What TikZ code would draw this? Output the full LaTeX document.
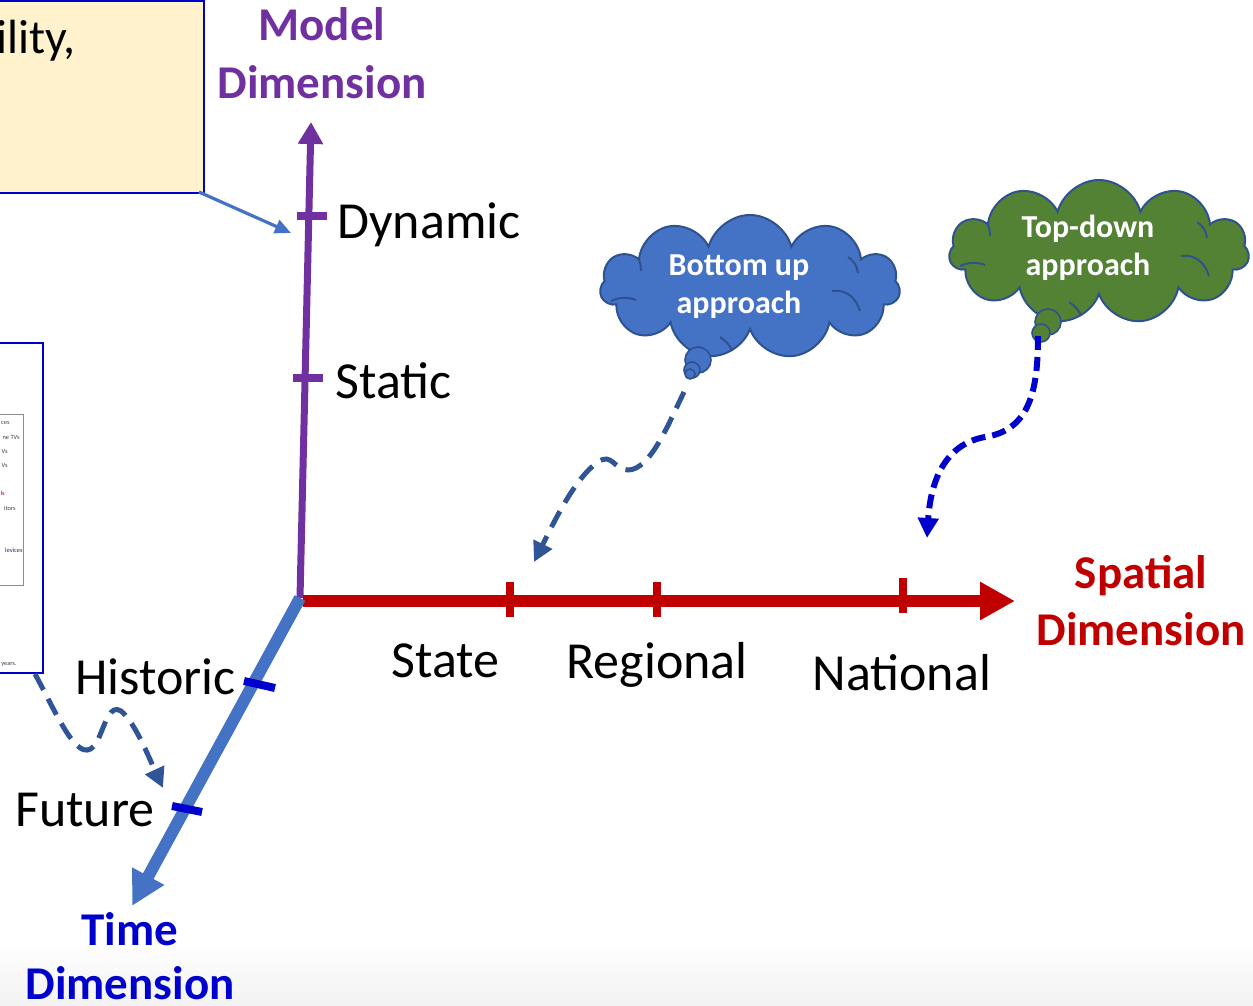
\documentclass[tikz,border=0pt]{standalone}
\usepackage{fontspec}
\setmainfont{Carlito}
\usetikzlibrary{arrows.meta,shapes.symbols,calc}
\definecolor{modelpurple}{HTML}{7030A0}
\definecolor{spacered}{HTML}{C00000}
\definecolor{timeblue}{HTML}{4472C4}
\definecolor{deepblue}{HTML}{0000CC}
\definecolor{dashblue}{HTML}{2F5597}
\definecolor{cloudedge}{HTML}{2F528F}
\definecolor{cloudblue}{HTML}{4472C4}
\definecolor{cloudgreen}{HTML}{548235}
\definecolor{notefill}{HTML}{FFF2CC}
\begin{document}
\begin{tikzpicture}[x=0.5pt,y=-0.5pt,
  axlabel/.style={inner sep=0pt,anchor=base west,font=\fontsize{26}{31}\selectfont},
  dimlabel/.style={inner sep=0pt,anchor=base,font=\fontsize{23.5}{28.5}\selectfont\bfseries},
  thought/.style={cloud,cloud puffs=11,aspect=2.1,draw=cloudedge,line width=1pt,inner sep=0pt},
  puffline/.style={draw=cloudedge,line width=1pt},
  bubble/.style={draw=cloudedge,line width=0.8pt},
  cloudtext/.style={inner sep=0pt,anchor=base,text=white,font=\fontsize{16}{19.5}\selectfont\bfseries},
  tinytext/.style={inner sep=0pt,anchor=base east,font=\fontsize{3.2}{4}\selectfont,text=black!75},
  flowarrow/.style={line width=2.5pt,dash pattern=on 9pt off 5pt,-{Triangle[length=10pt,width=10pt]}}
]
\useasboundingbox (0,0) rectangle (1253,1006);
% faint floor shading
\shade[top color=white,bottom color=black!5] (0,940) rectangle (1253,1006);

% note box (top left) and figure box (left), both running off the page
\node[draw=deepblue,fill=notefill,line width=1pt,anchor=north east,minimum width=200pt,minimum height=96pt,inner sep=0pt] (notebox) at (205,0) {};
\node[anchor=base east,inner sep=0pt,font=\fontsize{24}{29}\selectfont] (notetext) at (76,54) {ility,};

\node[draw=deepblue,fill=white,line width=1pt,anchor=north east,minimum width=60pt,minimum height=165pt,inner sep=0pt] (figbox) at (44,342) {};
\node[draw=black!45,line width=0.5pt,anchor=north east,minimum width=40pt,minimum height=85.5pt,inner sep=0pt] (legend) at (24,414) {};
\node[tinytext] (f1) at (10,424) {ces};
\node[tinytext] (f2) at (20,439) {ne TVs};
\node[tinytext] (f3) at (8,453) {Vs};
\node[tinytext] (f4) at (8,467) {Vs};
\node[tinytext,text=spacered!70!black] (f5) at (5,495) {ls};
\node[tinytext] (f6) at (16,510) {itors};
\node[tinytext,text=modelpurple!60!black] (f7) at (23,552) {levices};
\node[tinytext] (f8) at (17,665) {years.};

% axes
\coordinate (O) at (300,598);
\coordinate (Mtip) at (311,122);
\coordinate (Sstart) at (303,601);
\coordinate (Stip) at (1015,601);
\coordinate (Ttip) at (132,906);

\draw[modelpurple,line width=3.5pt,-{Triangle[length=11pt,width=12pt]}] (O) -- (Mtip);
\draw[spacered,line width=6pt,-{Triangle[length=17.5pt,width=18pt]}] (Sstart) -- (Stip);
\draw[timeblue,line width=6pt,-{Triangle[length=17pt,width=17pt]}] (O) -- (Ttip);

% ticks
\draw[modelpurple,line width=4pt] (297,216) -- (327,216);
\draw[modelpurple,line width=4pt] (293,378) -- (323,378);
\draw[spacered,line width=4pt] (510,582) -- (510,617);
\draw[spacered,line width=4pt] (657,582) -- (657,617);
\draw[spacered,line width=4pt] (903,578) -- (903,613);
\draw[deepblue,line width=4pt] (244,681) -- (275,688);
\draw[deepblue,line width=4pt] (172,806) -- (202,812);

% axis titles
\node[dimlabel,text=modelpurple] (mdim1) at (322,41) {Model};
\node[dimlabel,text=modelpurple] (mdim2) at (322,99) {Dimension};
\node[dimlabel,text=spacered] (sdim1) at (1141,588) {Spatial};
\node[dimlabel,text=spacered] (sdim2) at (1141,645) {Dimension};
\node[dimlabel,text=deepblue] (tdim1) at (130,945) {Time};
\node[dimlabel,text=deepblue] (tdim2) at (130,999) {Dimension};

% axis values
\node[axlabel] (dyn) at (337,238) {Dynamic};
\node[axlabel] (stat) at (335,398) {Static};
\node[axlabel] (state) at (391,677) {State};
\node[axlabel] (reg) at (566,678) {Regional};
\node[axlabel] (nat) at (812,690) {National};
\node[axlabel] (hist) at (75,694) {Historic};
\node[axlabel] (fut) at (15,826) {Future};

% note-to-axis pointer
\coordinate (dynpt) at (291,233);
\draw[timeblue,line width=1.6pt,-{Triangle[length=8pt,width=7pt]}] (notebox.south east) ++(-6,-2) -- (dynpt);

% thought clouds, each with the inner fold lines of the puffs
\node[thought,fill=cloudblue,minimum width=150pt,minimum height=72pt] (cloudA) at (750,287) {};
\node[thought,fill=cloudgreen,minimum width=150pt,minimum height=72pt] (cloudB) at (1099,252) {};
\foreach \c in {cloudA,cloudB}{
  \begin{scope}[shift={(\c.center)}]
    \draw[puffline] (-139,14) .. controls (-130,10) and (-122,10) .. (-114,13);
    \draw[puffline] (82,4) .. controls (95,2) and (106,10) .. (110,24);
    \draw[puffline] (98,-30) .. controls (104,-26) and (107,-21) .. (108,-14);
    \draw[puffline] (-112,-30) .. controls (-110,-25) and (-109,-21) .. (-109,-16);
    \draw[puffline] (-30,50) .. controls (-24,54) and (-20,58) .. (-18,64);
  \end{scope}
}
\node[cloudtext] (txtA1) at (739,275) {Bottom up};
\node[cloudtext] (txtA2) at (739,313) {approach};
\draw[bubble,fill=cloudblue] (698,360) circle[radius=13];
\draw[bubble,fill=cloudblue] (692,370) circle[radius=8];
\draw[bubble,fill=cloudblue] (690,374) circle[radius=5];
\coordinate (bubA) at (684,392);

\node[cloudtext] (txtB1) at (1088,237) {Top-down};
\node[cloudtext] (txtB2) at (1088,275) {approach};
\draw[bubble,fill=cloudgreen] (1048,322) circle[radius=13];
\draw[bubble,fill=cloudgreen] (1041,333) circle[radius=9];
\coordinate (bubB) at (1038,336);

% flow arrows
\coordinate (stateend) at (534,562);
\draw[flowarrow,draw=dashblue] (bubA) .. controls (668,425) and (650,470) .. (628,470)
  .. controls (614,470) and (612,452) .. (598,462)
  .. controls (575,478) and (555,520) .. (stateend);

\coordinate (natend) at (927,538);
\draw[line width=3pt,dash pattern=on 7pt off 3.5pt,draw=deepblue,-{Triangle[length=10pt,width=10pt]}]
  (bubB) .. controls (1038,390) and (1030,430) .. (985,437)
  .. controls (940,445) and (930,490) .. (natend);

\coordinate (futend) at (163,788);
\draw[flowarrow,draw=dashblue] ($(figbox.south east)+(-9,0)$)
  .. controls (60,720) and (80,770) .. (97,742)
  .. controls (106,722) and (110,704) .. (121,711)
  .. controls (135,722) and (150,760) .. (futend);
\end{tikzpicture}
\end{document}
